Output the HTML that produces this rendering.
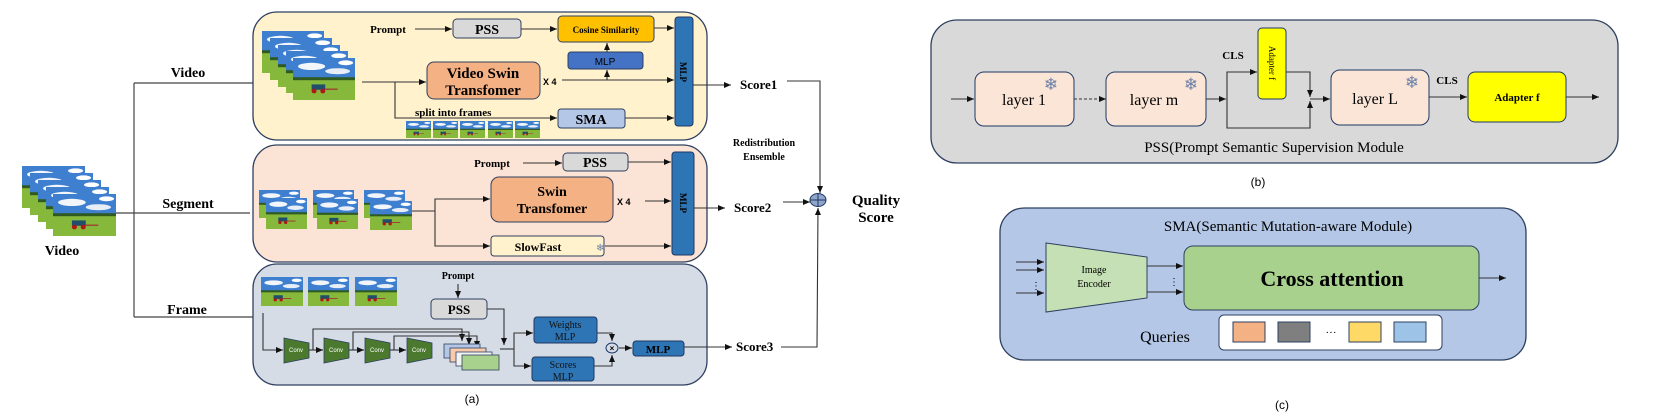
<!DOCTYPE html>
<html><head><meta charset="utf-8"><style>
html,body{margin:0;padding:0;background:#fff;}
svg{display:block;}
.s{font-family:"Liberation Serif",serif;}
.a{font-family:"Liberation Sans",sans-serif;}
.sn{font-family:"DejaVu Sans",sans-serif;fill:#6a7fa8;}
</style></head><body>
<svg width="1660" height="415" viewBox="0 0 1660 415" xmlns="http://www.w3.org/2000/svg">
<defs>
<marker id="ar" markerWidth="8" markerHeight="8" refX="7" refY="4" orient="auto" markerUnits="userSpaceOnUse">
<path d="M0,1 L7,4 L0,7 z" fill="#111"/></marker>
<symbol id="pic" viewBox="0 0 100 70" preserveAspectRatio="none">
<rect width="100" height="70" fill="#3f7fd0"/>
<ellipse cx="30" cy="14" rx="22" ry="6" fill="#f2f6fb"/>
<ellipse cx="72" cy="22" rx="20" ry="5" fill="#e8eef7"/>
<ellipse cx="85" cy="8" rx="12" ry="4" fill="#fff"/>
<rect y="32" width="100" height="6" fill="#2f5a22"/>
<rect y="37" width="100" height="33" fill="#86b83c"/>
<rect x="30" y="44" width="22" height="9" fill="#1f4f6a"/>
<circle cx="34" cy="55" r="4" fill="#b01818"/><circle cx="48" cy="55" r="4" fill="#b01818"/>
<rect x="52" y="51" width="20" height="2" fill="#a03030"/>
</symbol>
</defs>

<!-- LEFT input -->
<g>
<use href="#pic" x="22" y="166" width="63" height="42"/>
<use href="#pic" x="30" y="173" width="63" height="42"/>
<use href="#pic" x="38" y="180" width="63" height="42"/>
<use href="#pic" x="46" y="187" width="63" height="42"/>
<use href="#pic" x="53" y="194" width="63" height="42"/>
</g>
<text x="62" y="255" class="s" font-size="14" font-weight="bold" text-anchor="middle">Video</text>
<g stroke="#444" stroke-width="1.2" fill="none">
<line x1="134" y1="83" x2="134" y2="317"/>
<line x1="134" y1="83" x2="253" y2="83"/>
<line x1="116" y1="213" x2="250" y2="213"/>
<line x1="134" y1="317" x2="253" y2="317"/>
</g>
<text x="188" y="77" class="s" font-size="14" font-weight="bold" text-anchor="middle">Video</text>
<text x="188" y="208" class="s" font-size="14" font-weight="bold" text-anchor="middle">Segment</text>
<text x="187" y="318" class="s" font-size="14" font-weight="bold" text-anchor="middle" dy="-4">Frame</text>

<!-- Panel boxes -->
<rect x="253" y="12" width="454" height="128" rx="24" fill="#fff2cc" stroke="#2f4060" stroke-width="1.3"/>
<rect x="253" y="145" width="454" height="117" rx="24" fill="#fbe4d6" stroke="#2f4060" stroke-width="1.3"/>
<rect x="253" y="264" width="454" height="121" rx="24" fill="#d6dce6" stroke="#2f4060" stroke-width="1.3"/>

<!-- VIDEO BRANCH -->
<use href="#pic" x="262" y="31" width="62" height="42"/>
<use href="#pic" x="270" y="38" width="62" height="42"/>
<use href="#pic" x="278" y="45" width="62" height="42"/>
<use href="#pic" x="286" y="51" width="62" height="42"/>
<use href="#pic" x="293" y="58" width="62" height="42"/>
<text x="388" y="33" class="s" font-size="11" font-weight="bold" text-anchor="middle">Prompt</text>
<g stroke="#333" stroke-width="1.1" fill="none" marker-end="url(#ar)">
<line x1="415" y1="29" x2="452" y2="29"/>
<line x1="521" y1="29" x2="557" y2="29"/>
<line x1="654" y1="28" x2="674" y2="28"/>
<line x1="362" y1="82" x2="426" y2="82"/>
<line x1="562" y1="80" x2="674" y2="80"/>
<line x1="607" y1="80" x2="607" y2="70"/>
<line x1="607" y1="52" x2="607" y2="43"/>
<polyline points="395,82 395,118 557,118"/>
<line x1="625" y1="118" x2="674" y2="118"/>
</g>
<rect x="453" y="19" width="68" height="19" rx="4" fill="#d9d9d9" stroke="#2f4060"/>
<text x="487" y="34" class="s" font-size="14" font-weight="bold" text-anchor="middle">PSS</text>
<rect x="558" y="16" width="96" height="26" rx="4" fill="#ffc000" stroke="#2f4060"/>
<text x="606" y="33" class="s" font-size="9" font-weight="bold" text-anchor="middle">Cosine Similarity</text>
<rect x="568" y="52" width="75" height="17" rx="3" fill="#4472c4" stroke="#2f4060"/>
<text x="605" y="65" class="a" font-size="10" text-anchor="middle">MLP</text>
<rect x="427" y="62" width="113" height="37" rx="7" fill="#f4b183" stroke="#2f4060"/>
<text x="483" y="78" class="s" font-size="15" font-weight="bold" text-anchor="middle">Video Swin</text>
<text x="483" y="95" class="s" font-size="15" font-weight="bold" text-anchor="middle">Transfomer</text>
<text x="543" y="85" class="a" font-size="9" font-weight="bold">X 4</text>
<text x="415" y="116" class="s" font-size="11" font-weight="bold">split into frames</text>
<use href="#pic" x="406" y="121" width="25" height="17"/>
<use href="#pic" x="433" y="121" width="25" height="17"/>
<use href="#pic" x="460" y="121" width="25" height="17"/>
<use href="#pic" x="488" y="121" width="25" height="17"/>
<use href="#pic" x="515" y="121" width="25" height="17"/>
<rect x="558" y="109" width="67" height="19" rx="3" fill="#b4c7e7" stroke="#2f4060"/>
<text x="591" y="124" class="s" font-size="14" font-weight="bold" text-anchor="middle">SMA</text>
<rect x="675" y="17" width="18" height="109" rx="3" fill="#2e75b6" stroke="#1f3864"/>
<text transform="translate(680,72) rotate(90)" class="s" font-size="9" font-weight="bold" text-anchor="middle">MLP</text>

<!-- SEGMENT BRANCH -->
<use href="#pic" x="259" y="190" width="41" height="28"/>
<use href="#pic" x="266" y="198" width="41" height="31"/>
<use href="#pic" x="313" y="190" width="41" height="28"/>
<use href="#pic" x="317" y="199" width="41" height="30"/>
<use href="#pic" x="364" y="190" width="41" height="28"/>
<use href="#pic" x="370" y="201" width="42" height="29"/>
<text x="492" y="167" class="s" font-size="11" font-weight="bold" text-anchor="middle">Prompt</text>
<g stroke="#333" stroke-width="1.1" fill="none" marker-end="url(#ar)">
<line x1="523" y1="163" x2="562" y2="163"/>
<line x1="628" y1="162" x2="671" y2="162"/>
<polyline points="412,211 435,211 435,199 490,199"/>
<polyline points="435,211 435,246 490,246"/>
<line x1="645" y1="201" x2="671" y2="201"/>
<line x1="605" y1="246" x2="671" y2="246"/>
</g>
<rect x="563" y="153" width="65" height="18" rx="4" fill="#d9d9d9" stroke="#2f4060"/>
<text x="595" y="167" class="s" font-size="14" font-weight="bold" text-anchor="middle">PSS</text>
<rect x="491" y="177" width="122" height="45" rx="8" fill="#f4b183" stroke="#2f4060"/>
<text x="552" y="196" class="s" font-size="14" font-weight="bold" text-anchor="middle">Swin</text>
<text x="552" y="213" class="s" font-size="14" font-weight="bold" text-anchor="middle">Transfomer</text>
<text x="617" y="205" class="a" font-size="9" font-weight="bold">X 4</text>
<rect x="491" y="236" width="113" height="20" rx="3" fill="#fff2cc" stroke="#2f4060"/>
<text x="538" y="251" class="s" font-size="12" font-weight="bold" text-anchor="middle">SlowFast</text>
<text x="596" y="251" class="sn" font-size="10">❄</text>
<rect x="672" y="152" width="22" height="103" rx="3" fill="#2e75b6" stroke="#1f3864"/>
<text transform="translate(680,203) rotate(90)" class="s" font-size="9" font-weight="bold" text-anchor="middle">MLP</text>

<!-- FRAME BRANCH -->
<use href="#pic" x="261" y="277" width="42" height="29"/>
<use href="#pic" x="308" y="277" width="41" height="29"/>
<use href="#pic" x="355" y="277" width="42" height="29"/>
<text x="458" y="279" class="s" font-size="10" font-weight="bold" text-anchor="middle">Prompt</text>
<g stroke="#333" stroke-width="1.1" fill="none" marker-end="url(#ar)">
<line x1="458" y1="284" x2="458" y2="298"/>
<polyline points="487,309 504,309 504,345"/>
<polyline points="263,313 263,350 283,350"/>
<line x1="309" y1="350" x2="323" y2="350"/>
<line x1="349" y1="350" x2="364" y2="350"/>
<line x1="390" y1="350" x2="406" y2="350"/>
<polyline points="313,350 313,329 462,329 462,341"/>
<polyline points="353,350 353,332 469,332 469,345"/>
<polyline points="394,350 394,336 477,336 477,348"/>
<polyline points="514,349 514,333 533,333"/>
<polyline points="514,349 514,366 531,366"/>
<polyline points="597,333 612,333 612,341"/>
<polyline points="594,366 612,366 612,355"/>
<line x1="619" y1="348" x2="632" y2="348"/>
<line x1="684" y1="347" x2="732" y2="347"/>
</g>
<line x1="500" y1="349" x2="514" y2="349" stroke="#333" stroke-width="1.1"/>
<g fill="#4b7a2f" stroke="#2f4060" stroke-width="0.8">
<polygon points="284,338 309,343 309,358 284,363"/>
<polygon points="324,338 349,343 349,358 324,363"/>
<polygon points="365,338 390,343 390,358 365,363"/>
<polygon points="407,338 432,343 432,358 407,363"/>
</g>
<g class="a" font-size="6" fill="#fff" text-anchor="middle">
<text x="296" y="352">Conv</text><text x="336" y="352">Conv</text><text x="377" y="352">Conv</text><text x="419" y="352">Conv</text>
</g>
<rect x="444" y="344" width="36" height="14" fill="#b4c7e7" stroke="#2f4060" stroke-width="0.8"/>
<rect x="450" y="348" width="36" height="14" fill="#f8cbad" stroke="#2f4060" stroke-width="0.8"/>
<rect x="456" y="352" width="36" height="14" fill="#f2f2f2" stroke="#2f4060" stroke-width="0.8"/>
<rect x="462" y="355" width="37" height="15" fill="#a9d18e" stroke="#2f4060" stroke-width="0.8"/>
<rect x="431" y="299" width="56" height="20" rx="4" fill="#d9d9d9" stroke="#2f4060"/>
<text x="459" y="314" class="s" font-size="13" font-weight="bold" text-anchor="middle">PSS</text>
<rect x="534" y="317" width="63" height="26" rx="3" fill="#2e75b6" stroke="#1f3864"/>
<text x="565" y="328" class="s" font-size="10" text-anchor="middle" fill="#111">Weights</text>
<text x="565" y="340" class="s" font-size="10" text-anchor="middle" fill="#111">MLP</text>
<rect x="532" y="357" width="62" height="24" rx="3" fill="#2e75b6" stroke="#1f3864"/>
<text x="563" y="368" class="s" font-size="10" text-anchor="middle" fill="#111">Scores</text>
<text x="563" y="380" class="s" font-size="10" text-anchor="middle" fill="#111">MLP</text>
<ellipse cx="612" cy="348" rx="6" ry="5" fill="#d6dce6" stroke="#1f3864"/>
<text x="612" y="351" class="a" font-size="8" font-weight="bold" text-anchor="middle">×</text>
<rect x="633" y="341" width="51" height="15" rx="3" fill="#2e75b6" stroke="#1f3864"/>
<text x="658" y="353" class="s" font-size="11" font-weight="bold" text-anchor="middle">MLP</text>
<text x="472" y="403" class="a" font-size="12" text-anchor="middle">(a)</text>

<!-- SCORES / ENSEMBLE -->
<g stroke="#333" stroke-width="1.1" fill="none" marker-end="url(#ar)">
<line x1="693" y1="85" x2="731" y2="85"/>
<line x1="694" y1="208" x2="725" y2="208"/>
<polyline points="787,81 820,81 820,193"/>
<line x1="783" y1="202" x2="810" y2="202"/>
<polyline points="781,347 817,347 818,208"/>
</g>
<text x="740" y="89" class="s" font-size="13" font-weight="bold">Score1</text>
<text x="734" y="212" class="s" font-size="13" font-weight="bold">Score2</text>
<text x="736" y="351" class="s" font-size="13" font-weight="bold">Score3</text>
<text x="764" y="146" class="s" font-size="10" font-weight="bold" text-anchor="middle">Redistribution</text>
<text x="764" y="160" class="s" font-size="10" font-weight="bold" text-anchor="middle">Ensemble</text>
<ellipse cx="818" cy="200" rx="8" ry="6.5" fill="#8fa5c9" stroke="#1f3864"/>
<line x1="810" y1="200" x2="826" y2="200" stroke="#1f3864"/><line x1="818" y1="194" x2="818" y2="207" stroke="#1f3864"/>
<text x="876" y="205" class="s" font-size="15" font-weight="bold" text-anchor="middle">Quality</text>
<text x="876" y="222" class="s" font-size="15" font-weight="bold" text-anchor="middle">Score</text>

<!-- PANEL B -->
<rect x="931" y="20" width="687" height="143" rx="26" fill="#d9d9d9" stroke="#2f4060" stroke-width="1.3"/>
<g stroke="#333" stroke-width="1.1" fill="none">
<line x1="951" y1="99" x2="974" y2="99" marker-end="url(#ar)"/>
<line x1="1074" y1="99" x2="1106" y2="99" stroke-dasharray="3,2" marker-end="url(#ar)"/>
<line x1="1206" y1="99" x2="1226" y2="99" marker-end="url(#ar)"/>
<polyline points="1227,99 1227,72 1257,72" marker-end="url(#ar)"/>
<polyline points="1227,99 1227,128 1310,128 1310,101" marker-end="url(#ar)"/>
<polyline points="1286,72 1310,72 1310,97" marker-end="url(#ar)"/>
<line x1="1310" y1="99" x2="1330" y2="99" marker-end="url(#ar)"/>
<line x1="1429" y1="97" x2="1467" y2="97" marker-end="url(#ar)"/>
<line x1="1566" y1="97" x2="1599" y2="97" marker-end="url(#ar)"/>
</g>
<rect x="975" y="72" width="99" height="54" rx="9" fill="#fbe5d6" stroke="#1f3864"/>
<text x="1024" y="105" class="s" font-size="16" text-anchor="middle">layer 1</text>
<text x="1051" y="90" class="sn" font-size="17" text-anchor="middle">❄</text>
<rect x="1106" y="72" width="100" height="54" rx="9" fill="#fbe5d6" stroke="#1f3864"/>
<text x="1154" y="105" class="s" font-size="16" text-anchor="middle">layer m</text>
<text x="1191" y="90" class="sn" font-size="17" text-anchor="middle">❄</text>
<rect x="1331" y="70" width="98" height="55" rx="9" fill="#fbe5d6" stroke="#1f3864"/>
<text x="1375" y="104" class="s" font-size="16" text-anchor="middle">layer L</text>
<text x="1412" y="88" class="sn" font-size="17" text-anchor="middle">❄</text>
<rect x="1258" y="28" width="28" height="71" rx="4" fill="#ffff00" stroke="#1f3864"/>
<text transform="translate(1269,63) rotate(90)" class="s" font-size="9" text-anchor="middle">Adapter f</text>
<text x="1233" y="59" class="s" font-size="11" font-weight="bold" text-anchor="middle">CLS</text>
<text x="1447" y="84" class="s" font-size="11" font-weight="bold" text-anchor="middle">CLS</text>
<rect x="1468" y="72" width="98" height="50" rx="7" fill="#ffff00" stroke="#1f3864"/>
<text x="1517" y="101" class="s" font-size="11" font-weight="bold" text-anchor="middle">Adapter f</text>
<text x="1274" y="152" class="s" font-size="15" text-anchor="middle">PSS(Prompt Semantic Supervision Module</text>
<text x="1258" y="186" class="a" font-size="12" text-anchor="middle">(b)</text>

<!-- PANEL C -->
<rect x="1000" y="208" width="526" height="152" rx="24" fill="#b4c7e7" stroke="#2f4060" stroke-width="1.3"/>
<text x="1288" y="231" class="s" font-size="15" text-anchor="middle">SMA(Semantic Mutation-aware Module)</text>
<g stroke="#333" stroke-width="1.1" fill="none" marker-end="url(#ar)">
<line x1="1016" y1="262" x2="1044" y2="262"/>
<line x1="1016" y1="270" x2="1044" y2="270"/>
<line x1="1016" y1="293" x2="1044" y2="293"/>
<line x1="1147" y1="266" x2="1183" y2="266"/>
<line x1="1147" y1="292" x2="1183" y2="292"/>
<line x1="1479" y1="278" x2="1506" y2="278"/>
</g>
<text x="1036" y="289" class="s" font-size="10" text-anchor="middle">⋮</text>
<text x="1174" y="285" class="s" font-size="10" text-anchor="middle">⋮</text>
<polygon points="1046,243 1147,257 1147,298 1046,312" fill="#c5e0b4" stroke="#2f4060"/>
<text x="1094" y="273" class="s" font-size="10" text-anchor="middle">Image</text>
<text x="1094" y="287" class="s" font-size="10" text-anchor="middle">Encoder</text>
<rect x="1184" y="246" width="295" height="64" rx="9" fill="#a9d18e" stroke="#2f4060"/>
<text x="1332" y="286" class="s" font-size="22" font-weight="bold" text-anchor="middle">Cross attention</text>
<text x="1165" y="342" class="s" font-size="16" text-anchor="middle">Queries</text>
<rect x="1219" y="315" width="223" height="35" rx="5" fill="#fff" stroke="#2f4060"/>
<rect x="1233" y="322" width="32" height="20" fill="#f4b183" stroke="#2f4060"/>
<rect x="1278" y="322" width="32" height="20" fill="#7f7f7f" stroke="#2f4060"/>
<text x="1331" y="336" class="s" font-size="11" text-anchor="middle">···</text>
<rect x="1349" y="322" width="32" height="20" fill="#ffd966" stroke="#2f4060"/>
<rect x="1394" y="322" width="32" height="20" fill="#9dc3e6" stroke="#2f4060"/>
<text x="1282" y="409" class="a" font-size="12" text-anchor="middle">(c)</text>
</svg>
</body></html>
